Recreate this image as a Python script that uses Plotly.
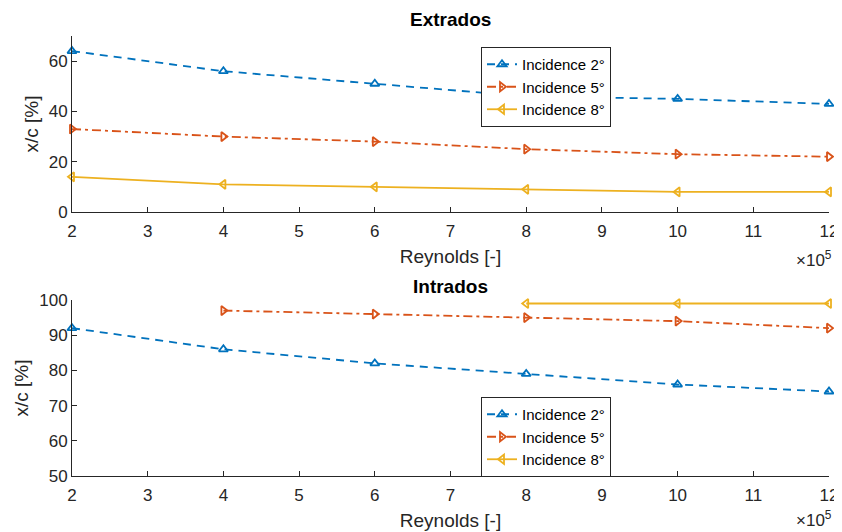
import plotly.graph_objects as go

# Reynolds number (x 10^5)
reynolds = [2, 4, 6, 8, 10, 12]

# Extrados: transition position x/c [%]
extrados_2 = [64, 56, 51, 46, 45, 43]
extrados_5 = [33, 30, 28, 25, 23, 22]
extrados_8 = [14, 11, 10, 9, 8, 8]

# Intrados
intrados_2 = [92, 86, 82, 79, 76, 74]
intrados_5_re = [4, 6, 8, 10, 12]
intrados_5 = [97, 96, 95, 94, 92]
intrados_8_re = [8, 10, 12]
intrados_8 = [99, 99, 99]

labels = ["Incidence 2°", "Incidence 5°", "Incidence 8°"]
colors = ["#0072BD", "#D95319", "#EDB120"]
dashes = ["8px,6px", "9px,4px,3px,4px", "solid"]
symbols = ["triangle-up-open", "triangle-right-open", "triangle-left-open"]

FONT = "Liberation Sans, Arial, sans-serif"
AX = "#262626"

# the page body adds an 8px margin, so the figure is drawn from (8, 8)
OFF = 8
W, H = 842 - OFF, 532 - OFF
# plot area in window pixels: x 72..829, y 36..476
ML, MR, MT, MB = 72 - OFF, 842 - 829, 36 - OFF, 532 - 476
PW, PH = W - ML - MR, H - MT - MB


def px_x(p):
    return (p - OFF - ML) / PW


def px_y(p):
    return (H - MB - (p - OFF)) / PH


top_dom = [px_y(212), 1]
bot_dom = [0, px_y(300)]

fig = go.Figure()

series = [
    ("x", "y", "legend", reynolds, extrados_2, 0),
    ("x", "y", "legend", reynolds, extrados_5, 1),
    ("x", "y", "legend", reynolds, extrados_8, 2),
    ("x2", "y2", "legend2", reynolds, intrados_2, 0),
    ("x2", "y2", "legend2", intrados_5_re, intrados_5, 1),
    ("x2", "y2", "legend2", intrados_8_re, intrados_8, 2),
]
for xa, ya, leg, xs, ys, i in series:
    fig.add_trace(go.Scatter(
        x=xs, y=ys, xaxis=xa, yaxis=ya, legend=leg,
        name=labels[i], mode="lines+markers", cliponaxis=False,
        line=dict(color=colors[i], width=1.8, dash=dashes[i]),
        marker=dict(symbol=symbols[i], size=8, color=colors[i],
                    line=dict(color=colors[i], width=1.8)),
    ))

axis_common = dict(
    showline=True, linecolor=AX, linewidth=1, mirror=False,
    ticks="inside", ticklen=5, tickcolor=AX, tickwidth=1,
    showgrid=False, zeroline=False, automargin=False,
    tickfont=dict(family=FONT, size=17, color=AX),
    title_font=dict(family=FONT, size=19, color=AX),
)
xticks = dict(tickmode="array", tickvals=list(range(2, 13)), range=[2, 12],
              ticklabelstandoff=4)

legend_common = dict(
    xanchor="left", yanchor="top",
    bgcolor="white", bordercolor=AX, borderwidth=1,
    font=dict(family=FONT, size=15, color="black"),
    tracegroupgap=0, itemwidth=30,
)

fig.update_layout(
    width=W, height=H,
    margin=dict(l=ML, r=MR, t=MT, b=MB),
    plot_bgcolor="white", paper_bgcolor="white",
    font=dict(family=FONT, color=AX),
    xaxis=dict(domain=[0, 1], anchor="y", title=dict(text="Reynolds [-]", standoff=9),
               **xticks, **axis_common),
    yaxis=dict(domain=top_dom, anchor="x", range=[0, 70], tickvals=[0, 20, 40, 60],
               title=dict(text="x/c [%]", standoff=5), **axis_common),
    xaxis2=dict(domain=[0, 1], anchor="y2", title=dict(text="Reynolds [-]", standoff=9),
                **xticks, **axis_common),
    yaxis2=dict(domain=bot_dom, anchor="x2", range=[50, 100],
                tickvals=[50, 60, 70, 80, 90, 100],
                title=dict(text="x/c [%]", standoff=5), **axis_common),
    legend=dict(x=px_x(481), y=px_y(47), **legend_common),
    legend2=dict(x=px_x(481), y=px_y(397), **legend_common),
    showlegend=True,
)

for text, yp in [("<b>Extrados</b>", 20), ("<b>Intrados</b>", 286)]:
    fig.add_annotation(text=text, xref="paper", yref="paper", x=0.5, y=px_y(yp),
                       xanchor="center", yanchor="middle",
                       showarrow=False, font=dict(family=FONT, size=19, color="black"))
for yp in [259, 519]:
    fig.add_annotation(text="×10<sup>5</sup>", xref="paper", yref="paper",
                       x=px_x(834), y=px_y(yp), xanchor="right", yanchor="middle",
                       showarrow=False, font=dict(family=FONT, size=17, color=AX))

fig.write_html("out.html")
